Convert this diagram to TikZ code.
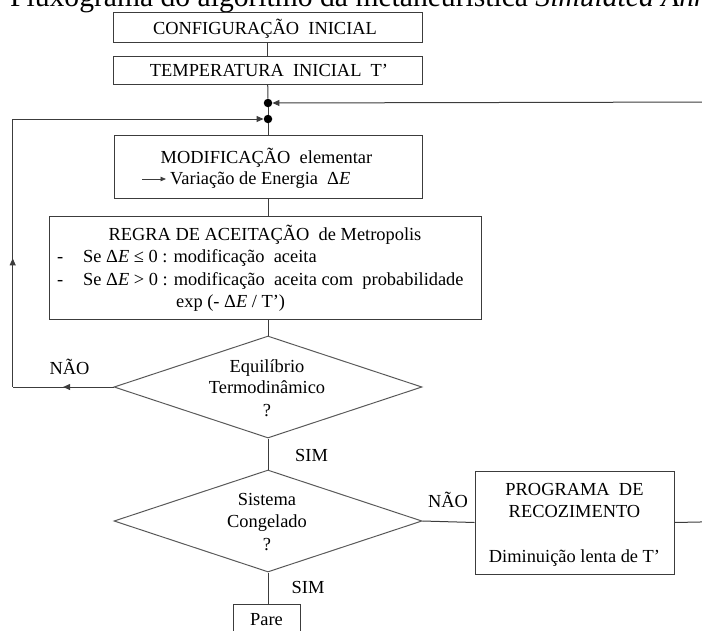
\documentclass[tikz,border=0pt]{standalone}
\usepackage{fontspec}
\setmainfont{Liberation Serif}
\usetikzlibrary{arrows.meta,shapes.geometric,decorations.markings}
\definecolor{edge}{HTML}{3C3C3C}
\definecolor{diaedge}{HTML}{5A5A5A}
\newcommand{\flowfont}{\fontsize{18.4}{22.5}\selectfont}
\newcommand{\capfont}{\fontsize{29.6}{36}\selectfont}
\newcommand{\dE}{Δ\textit{E}}
\begin{document}
\begin{tikzpicture}[x=1pt,y=-1pt,
  box/.style={draw=edge,line width=1pt,rectangle,inner sep=0pt},
  decision/.style={draw=diaedge,line width=1pt,diamond,inner sep=0pt,
    minimum width=308pt,minimum height=102pt},
  txt/.style={anchor=base,inner sep=0pt,font=\flowfont},
  txtl/.style={anchor=base west,inner sep=0pt,font=\flowfont},
  conn/.style={draw=edge,line width=1pt},
  tip/.style={-{Triangle[length=7pt,width=6pt]}},
  junction/.style={circle,fill=black,inner sep=0pt,minimum size=8.5pt},
  midarrow/.style={postaction={decorate},decoration={markings,
    mark=at position #1 with {\arrow{Triangle[length=7pt,width=6pt]}}}}
]
\useasboundingbox (0,0) rectangle (702,630);
\clip (0,0) rectangle (702,630);

% caption line above the chart
\node[anchor=base west,inner sep=0pt,font=\capfont] (cap) at (10,6.5)
  {Fluxograma do algoritmo da metaheurística \textit{Simulated Annealing}};
\node[anchor=base east,inner sep=0pt,font=\capfont] (capdash) at (cap.base west) {–\hspace{7.5pt}};

% boxes and decisions
\node[box,minimum width=309pt,minimum height=30pt] (cfg) at (267.5,27) {};
\node[box,minimum width=309pt,minimum height=28pt] (tmp) at (267.5,70) {};
\node[junction] (ja) at (268,103) {};
\node[junction] (jb) at (268,119) {};
\node[box,minimum width=308pt,minimum height=63pt] (mod) at (268,166.5) {};
\node[box,minimum width=432pt,minimum height=103pt] (rule) at (265.5,267.5) {};
\node[decision] (eq) at (268,387) {};
\node[decision] (frz) at (268,521) {};
\node[box,minimum width=199pt,minimum height=103pt] (prog) at (574.5,522.5) {};
\node[box,minimum width=67pt,minimum height=50pt] (stop) at (266.5,629) {};

% texts
\node[txt] (t1) at (265,34.3) {CONFIGURAÇÃO~ INICIAL};
\node[txt] (t2) at (269,76) {TEMPERATURA~ INICIAL~ T’};
\node[txt] (t3) at (266.5,163) {MODIFICAÇÃO~ elementar};
\coordinate (aw) at (142,179);
\coordinate (ae) at (166,179);
\draw[conn,line width=0.8pt,-{Triangle[length=5.5pt,width=4.5pt]}] (aw) -- (ae);
\node[txtl] (t4) at (170,184.5) {Variação de Energia~ \dE};
\node[txt] (t5) at (265,240) {REGRA DE ACEITAÇÃO~ de Metropolis};
\node[txtl] (t6a) at (57,262) {-};
\node[txtl] (t6) at (83,262) {Se \dE\ ≤ 0 : modificação~ aceita};
\node[txtl] (t7a) at (57,285) {-};
\node[txtl] (t7) at (83,285) {Se \dE\ > 0 : modificação~ aceita com~ probabilidade};
\node[txtl] (t8) at (176,307) {exp (- \dE\ / T’)};
\node[txt] (e1) at (267,372) {Equilíbrio};
\node[txt] (e2) at (267,393.5) {Termodinâmico};
\node[txt] (e3) at (267,416) {?};
\node[txt] (s1) at (267,505) {Sistema};
\node[txt] (s2) at (267,527.5) {Congelado};
\node[txt] (s3) at (267,550) {?};
\node[txt] (p1) at (574.5,495) {PROGRAMA~ DE};
\node[txt] (p2) at (574.5,517.5) {RECOZIMENTO};
\node[txt] (p3) at (574.5,562.5) {Diminuição lenta de T’};
\node[txt] (stopt) at (266.5,625) {Pare};
\node[txt] (no1) at (69.5,374.3) {NÃO};
\node[txt] (yes1) at (311.5,461) {SIM};
\node[txt] (no2) at (448,507) {NÃO};
\node[txt] (yes2) at (308,593) {SIM};

% connectors
\draw[conn] (cfg) -- (tmp);
\draw[conn] (tmp) -- (ja);
\draw[conn] (ja) -- (jb);
\draw[conn] (jb) -- (mod);
\draw[conn] (mod.south) -- (mod.south |- rule.north);
\draw[conn] (eq.north |- rule.south) -- (eq.north);
\draw[conn] (eq) -- (frz);
\draw[conn] (frz.south) -- (frz.south |- stop.north);
\draw[conn] (frz.east) -- (prog.west);

% return loop after a non-equilibrium state
\coordinate (lb) at (12.7,387);
\coordinate (lt) at (12.7,119);
\draw[conn,midarrow=0.5] (eq.west) -- (lb);
\draw[conn,midarrow=0.48] (lb) -- (lt);
\draw[conn,tip] (lt) -- (jb);

% return loop after the temperature decrease
\coordinate (rb) at (725,521.5);
\coordinate (rt) at (725,102);
\draw[conn] (prog.east) -- (rb) -- (rt);
\draw[conn,tip] (rt) -- (ja);
\end{tikzpicture}
\end{document}
